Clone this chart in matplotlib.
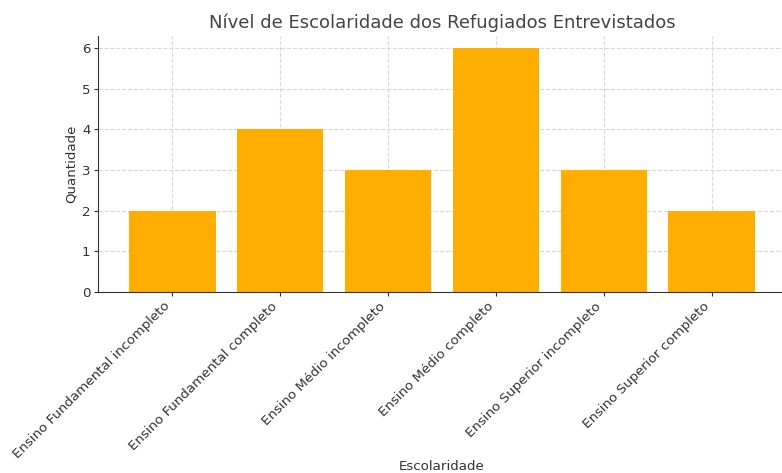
import numpy as np
import matplotlib.pyplot as plt

niveis = ['Ensino Fundamental incompleto', 'Ensino Fundamental completo',
          'Ensino Médio incompleto', 'Ensino Médio completo',
          'Ensino Superior incompleto', 'Ensino Superior completo']
quantidade = [2, 4, 3, 6, 3, 2]

plt.rcParams['font.family'] = ['DejaVu Sans']
plt.rcParams['text.color'] = '#333333'
plt.rcParams['axes.labelcolor'] = '#333333'
plt.rcParams['xtick.color'] = '#333333'
plt.rcParams['ytick.color'] = '#333333'

fig = plt.figure(figsize=(7.82, 4.73), dpi=100)
ax = fig.add_axes([0.1253, 0.3827, 0.8798, 0.5412])

ax.bar(niveis, quantidade, width=0.8, color='#ffae00', zorder=2)
ax.set_axisbelow(True)
ax.grid(True, linestyle='--', color='#d8d8d8', linewidth=0.8)

ax.set_ylim(0, 6.3)
ax.set_title('Nível de Escolaridade dos Refugiados Entrevistados', fontsize=13, color='#444444')
ax.set_xlabel('Escolaridade', fontsize=9.6)
ax.set_ylabel('Quantidade', fontsize=9.6, labelpad=3)
# xlabel sits right at the bottom edge, as in the reference
ax.xaxis.set_label_coords(0.5, -0.655)
plt.setp(ax.get_xticklabels(), rotation=45, ha='right', fontsize=9.6)
ax.tick_params(axis='y', labelsize=9.6, length=3, pad=2.5)
ax.tick_params(axis='x', length=3, pad=2.5)

ax.spines['top'].set_visible(False)
ax.spines['right'].set_visible(False)
ax.spines['left'].set_color('#333333')
ax.spines['bottom'].set_color('#333333')

fig.savefig('out.png', dpi=100)
